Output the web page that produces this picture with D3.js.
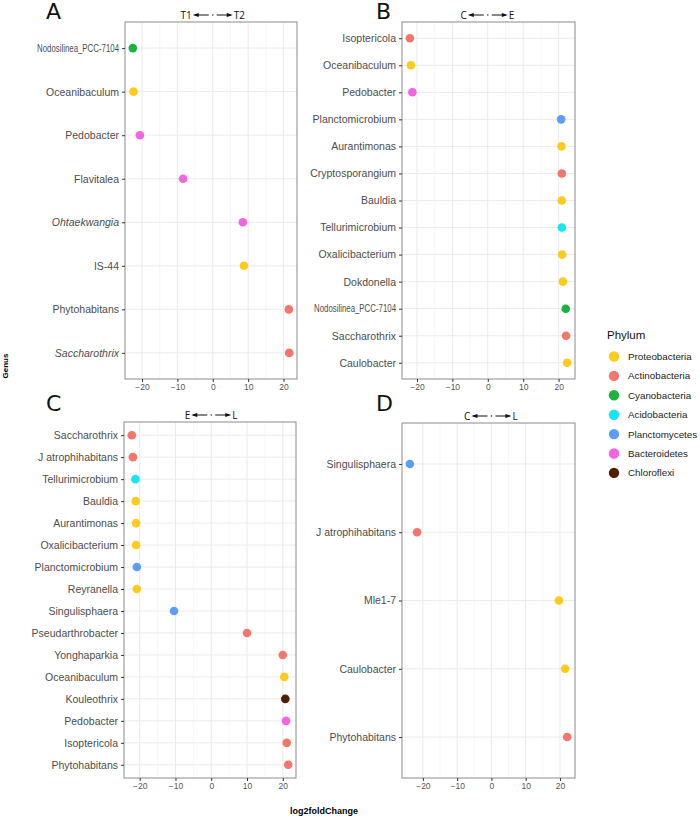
<!doctype html>
<html>
<head>
<meta charset="utf-8">
<script src="https://cdnjs.cloudflare.com/ajax/libs/d3/7.8.5/d3.min.js"></script>
<style>
  body { margin: 0; background: #fff; }
  svg { font-family: "Open Sans", "DejaVu Sans", sans-serif; }
</style>
</head>
<body>
<svg id="chart" width="700" height="817"></svg>
<script>
// phylum legend
const phyla = ["Proteobacteria", "Actinobacteria", "Cyanobacteria", "Acidobacteria", "Planctomycetes", "Bacteroidetes", "Chloroflexi"];
const phylumColors = ["#FBCB1E", "#F4756B", "#1DB33F", "#14E6F2", "#5F9BF9", "#F364E1", "#4E1F00"];

// panel A : T1 vs T2
const genusA = ["Nodosilinea_PCC-7104", "Oceanibaculum", "Pedobacter", "Flavitalea", "Ohtaekwangia", "IS-44", "Phytohabitans", "Saccharothrix"];
const lfcA = [-22.6, -22.4, -20.6, -8.4, 8.5, 8.8, 21.5, 21.6];
const phylumA = ["Cyanobacteria", "Proteobacteria", "Bacteroidetes", "Bacteroidetes", "Bacteroidetes", "Proteobacteria", "Actinobacteria", "Actinobacteria"];

// panel B : C vs E
const genusB = ["Isoptericola", "Oceanibaculum", "Pedobacter", "Planctomicrobium", "Aurantimonas", "Cryptosporangium", "Bauldia", "Tellurimicrobium", "Oxalicibacterium", "Dokdonella", "Nodosilinea_PCC-7104", "Saccharothrix", "Caulobacter"];
const lfcB = [-22.0, -21.7, -21.3, 20.7, 20.8, 20.9, 20.9, 20.9, 21.0, 21.2, 22.0, 22.1, 22.4];
const phylumB = ["Actinobacteria", "Proteobacteria", "Bacteroidetes", "Planctomycetes", "Proteobacteria", "Actinobacteria", "Proteobacteria", "Acidobacteria", "Proteobacteria", "Proteobacteria", "Cyanobacteria", "Actinobacteria", "Proteobacteria"];

// panel C : E vs L
const genusC = ["Saccharothrix", "J atrophihabitans", "Tellurimicrobium", "Bauldia", "Aurantimonas", "Oxalicibacterium", "Planctomicrobium", "Reyranella", "Singulisphaera", "Pseudarthrobacter", "Yonghaparkia", "Oceanibaculum", "Kouleothrix", "Pedobacter", "Isoptericola", "Phytohabitans"];
const lfcC = [-22.2, -21.9, -21.2, -21.1, -21.0, -21.0, -20.8, -20.8, -10.4, 10.0, 20.0, 20.4, 20.7, 20.9, 21.1, 21.5];
const phylumC = ["Actinobacteria", "Actinobacteria", "Acidobacteria", "Proteobacteria", "Proteobacteria", "Proteobacteria", "Planctomycetes", "Proteobacteria", "Planctomycetes", "Actinobacteria", "Actinobacteria", "Proteobacteria", "Chloroflexi", "Bacteroidetes", "Actinobacteria", "Actinobacteria"];

// panel D : C vs L
const genusD = ["Singulisphaera", "J atrophihabitans", "Mle1-7", "Caulobacter", "Phytohabitans"];
const lfcD = [-23.8, -21.7, 19.7, 21.5, 22.1];
const phylumD = ["Planctomycetes", "Actinobacteria", "Proteobacteria", "Proteobacteria", "Actinobacteria"];

const xTicks = [-20, -10, 0, 10, 20];
const italicGenus = ["Ohtaekwangia", "Saccharothrix"];

const color = d3.scaleOrdinal().domain(phyla).range(phylumColors);
const svg = d3.select("#chart");

function drawPanel(o) {
  const data = o.genus.map((g, i) => ({genus: g, lfc: o.lfc[i], phylum: o.phylum[i]}));
  const ext = d3.extent(o.lfc);
  const pad = (ext[1] - ext[0]) * 0.05;
  const x = d3.scaleLinear().domain([ext[0] - pad, ext[1] + pad]).range([o.left, o.right]);
  const y = d3.scalePoint().domain(o.genus).range([o.top, o.bottom]).padding(0.6);

  const g = svg.append("g");

  // grid
  const minor = d3.range(-25, 26, 10).filter(v => v > x.domain()[0] && v < x.domain()[1]);
  g.selectAll(".minor").data(minor).enter().append("line")
    .attr("x1", d => x(d)).attr("x2", d => x(d))
    .attr("y1", o.top).attr("y2", o.bottom)
    .attr("stroke", "#f2f2f2").attr("stroke-width", 0.6);
  g.selectAll(".vmaj").data(xTicks).enter().append("line")
    .attr("x1", d => x(d)).attr("x2", d => x(d))
    .attr("y1", o.top).attr("y2", o.bottom)
    .attr("stroke", "#ebebeb").attr("stroke-width", 1);
  g.selectAll(".hmaj").data(o.genus).enter().append("line")
    .attr("x1", o.left).attr("x2", o.right)
    .attr("y1", d => y(d)).attr("y2", d => y(d))
    .attr("stroke", "#ebebeb").attr("stroke-width", 1);

  // points
  g.selectAll("circle").data(data).enter().append("circle")
    .attr("cx", d => x(d.lfc)).attr("cy", d => y(d.genus))
    .attr("r", 4.3).attr("fill", d => color(d.phylum));

  // border
  g.append("rect").attr("x", o.left).attr("y", o.top)
    .attr("width", o.right - o.left).attr("height", o.bottom - o.top)
    .attr("fill", "none").attr("stroke", "#8c8c8c").attr("stroke-width", 1);

  // axes
  const xa = g.append("g").attr("transform", `translate(0,${o.bottom})`)
    .call(d3.axisBottom(x).tickValues(xTicks).tickSize(3).tickPadding(2));
  xa.select(".domain").remove();
  xa.selectAll("line").attr("stroke", "#333");
  xa.selectAll("text").attr("fill", "#555").style("font-size", "8.5px");

  const ya = g.append("g").attr("transform", `translate(${o.left},0)`)
    .call(d3.axisLeft(y).tickSize(3).tickPadding(3));
  ya.select(".domain").remove();
  ya.selectAll("line").attr("stroke", "#333");
  ya.selectAll("text").attr("fill", "#4d4d4d").style("font-size", "10.5px")
    .style("font-style", d => italicGenus.includes(d) && o.italic ? "italic" : "normal")
    .filter(d => d.startsWith("Nodosilinea"))
    .style("font-size", "10px")
    .attr("textLength", 82).attr("lengthAdjust", "spacingAndGlyphs");

  // panel letter
  svg.append("text").attr("x", o.letterX).attr("y", o.letterY)
    .attr("font-family", "'DejaVu Sans', sans-serif").attr("font-size", 22)
    .attr("fill", "#111").text(o.letter);

  // direction annotation
  const cx = x(0), ay = o.top - 7;
  const ann = svg.append("g").attr("fill", "#111").attr("stroke", "#111");
  ann.append("text").attr("x", cx - 21).attr("y", ay + 3.5).attr("text-anchor", "end")
    .attr("stroke", "none").attr("font-size", 10).text(o.from);
  ann.append("text").attr("x", cx + 21).attr("y", ay + 3.5).attr("text-anchor", "start")
    .attr("stroke", "none").attr("font-size", 10).text(o.to);
  ann.append("line").attr("x1", cx - 18).attr("x2", cx - 4).attr("y1", ay).attr("y2", ay).attr("stroke-width", 1);
  ann.append("line").attr("x1", cx + 4).attr("x2", cx + 18).attr("y1", ay).attr("y2", ay).attr("stroke-width", 1);
  ann.append("circle").attr("cx", cx).attr("cy", ay).attr("r", 0.7).attr("stroke", "none");
  ann.append("path").attr("stroke", "none")
    .attr("d", `M${cx - 20},${ay} L${cx - 14},${ay - 2} L${cx - 14},${ay + 2} Z`);
  ann.append("path").attr("stroke", "none")
    .attr("d", `M${cx + 20},${ay} L${cx + 14},${ay - 2} L${cx + 14},${ay + 2} Z`);
}

drawPanel({genus: genusA, lfc: lfcA, phylum: phylumA, left: 125, right: 297, top: 22, bottom: 379,
  letter: "A", letterX: 46, letterY: 19, from: "T1", to: "T2", italic: true});
drawPanel({genus: genusB, lfc: lfcB, phylum: phylumB, left: 402, right: 575, top: 22, bottom: 379,
  letter: "B", letterX: 376, letterY: 19, from: "C", to: "E"});
drawPanel({genus: genusC, lfc: lfcC, phylum: phylumC, left: 124, right: 296, top: 422, bottom: 778,
  letter: "C", letterX: 46, letterY: 411, from: "E", to: "L"});
drawPanel({genus: genusD, lfc: lfcD, phylum: phylumD, left: 402, right: 575, top: 423, bottom: 778,
  letter: "D", letterX: 376, letterY: 411, from: "C", to: "L"});

// shared axis titles
svg.append("text").attr("transform", "translate(8,366) rotate(-90)")
  .attr("text-anchor", "middle").attr("font-size", 8).attr("font-weight", "bold")
  .attr("font-family", "'Liberation Sans', Arial, sans-serif").text("Genus");
svg.append("text").attr("x", 324).attr("y", 814)
  .attr("text-anchor", "middle").attr("font-size", 9).attr("font-weight", "bold")
  .attr("font-family", "'Liberation Sans', Arial, sans-serif").text("log2foldChange");

// legend
const leg = svg.append("g").attr("transform", "translate(607,0)")
  .attr("font-family", "'Liberation Sans', Arial, sans-serif");
leg.append("text").attr("x", 0).attr("y", 339).attr("font-size", 11.5).attr("fill", "#111").text("Phylum");
const li = leg.selectAll(".item").data(phyla).enter().append("g")
  .attr("transform", (d, i) => `translate(0,${356.5 + i * 19.4})`);
li.append("circle").attr("cx", 7).attr("cy", 0).attr("r", 5.2).attr("fill", d => color(d));
li.append("text").attr("x", 21).attr("y", 3.5).attr("font-size", 9.8).attr("fill", "#222").text(d => d);
</script>
</body>
</html>
